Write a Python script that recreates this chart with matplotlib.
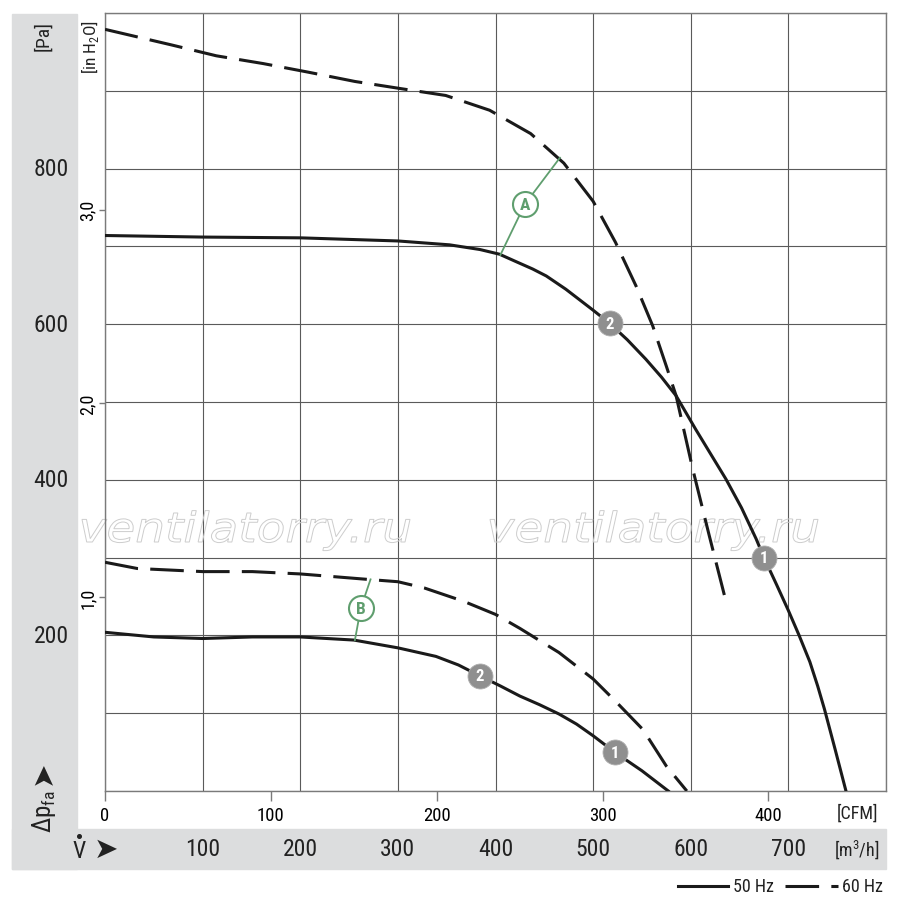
import matplotlib
matplotlib.use("Agg")
import matplotlib.pyplot as plt
from matplotlib.patches import Rectangle, PathPatch
from matplotlib.textpath import TextPath
from matplotlib.font_manager import FontProperties
from matplotlib.transforms import Affine2D, blended_transform_factory
from matplotlib.lines import Line2D

plt.rcParams['font.family'] = ['Roboto Condensed', 'Liberation Sans Narrow', 'DejaVu Sans']

# ---- data (x in m3/h, y in Pa) ----
upper_60_v = [0, 68, 114, 162, 208, 256, 302, 349, 394, 436, 470, 500, 523, 544, 561, 575, 585, 602, 619, 635]
upper_60_p = [979, 959, 945, 935, 924, 912, 903, 894, 875, 845, 807, 758, 705, 649, 598, 546, 508, 414, 328, 249]

upper_50_v = [0, 100, 200, 300, 353, 384, 404, 420, 438, 452, 472, 500, 517, 535, 554, 570, 585, 605, 620, 636,
              652, 667, 675, 688, 700, 711, 722, 730, 737, 748, 759]
upper_50_p = [714, 712, 711, 707, 702, 696, 690, 681, 671, 662, 645, 618, 601, 580, 555, 532, 508, 465, 434, 401,
              364, 324, 300, 265, 232, 200, 166, 135, 105, 53, 0]

lower_60_v = [0, 33, 100, 151, 200, 269, 300, 327, 367, 400, 425, 465, 500, 524, 551, 575, 596]
lower_60_p = [294, 286, 282, 282, 279, 272, 269, 261, 244, 227, 209, 178, 144, 114, 79, 32, 0]

lower_50_v = [0, 50, 100, 151, 200, 255, 300, 339, 362, 384, 405, 425, 445, 465, 483, 500, 522, 550, 577]
lower_50_p = [204, 198, 196, 198, 198, 194, 184, 173, 162, 148, 135, 122, 111, 99, 86, 71, 50, 26, 0]

# numbered markers on curves: (v, p, label)
num_badges = [(517, 601, '2'), (675, 300, '1'), (384, 148, '2'), (522, 50, '1')]
# letter markers: (v, p, label, (v_dash, p_dash), (v_solid, p_solid))
letter_badges = [(430, 754, 'A', (466, 814), (405, 689)),
                 (262, 235, 'B', (272, 272), (256, 194))]

pa_ticks = [200, 400, 600, 800]
m3h_ticks = [100, 200, 300, 400, 500, 600, 700]
cfm_ticks = [0, 100, 200, 300, 400]
inh2o_ticks = [1, 2, 3]
inh2o_labels = ['1,0', '2,0', '3,0']

PA_PER_INH2O = 249.089
M3H_PER_CFM = 1.699

W, H = 900, 903


def fx(px):
    return px / W


def fy(py):
    return 1 - py / H


fig = plt.figure(figsize=(9, 9.03), dpi=100)
fig.patch.set_facecolor('white')

# grey bands
band = '#dcddde'
fig.add_artist(Rectangle((fx(12), fy(870)), fx(77) - fx(12), fy(15) - fy(870),
                         transform=fig.transFigure, color=band, zorder=-5))
fig.add_artist(Rectangle((fx(12), fy(870)), fx(886) - fx(12), fy(830) - fy(870),
                         transform=fig.transFigure, color=band, zorder=-5))

ax = fig.add_axes([fx(105), fy(792), (886 - 105) / W, (792 - 14) / H])
ax.set_xlim(0, 800)
ax.set_ylim(0, 1000)
ax.set_xticks(range(0, 801, 100))
ax.set_yticks(range(0, 1001, 100))
ax.tick_params(length=0, labelbottom=False, labelleft=False)
ax.set_axisbelow(True)
ax.grid(True, color='#5a5a5a', lw=0.8)
for s in ax.spines.values():
    s.set_color('#7a7a7a')
    s.set_linewidth(1.0)

lc = '#1a1a1a'
dash = (11, 4)
ax.plot(upper_60_v, upper_60_p, color=lc, lw=2.2, dashes=dash, zorder=3)
ax.plot(lower_60_v, lower_60_p, color=lc, lw=2.2, dashes=dash, zorder=3)
ax.plot(upper_50_v, upper_50_p, color=lc, lw=2.2, zorder=3)
ax.plot(lower_50_v, lower_50_p, color=lc, lw=2.2, zorder=3)

for v, p, t in num_badges:
    ax.plot(v, p, 'o', ms=18, mfc='#8f8f8f', mec='#b0b0b0', mew=0.6, zorder=5)
    ax.text(v, p, t, color='white', fontsize=12, fontweight='bold',
            ha='center', va='center', zorder=6)

green = '#5f9e6e'
for v, p, t, d, s in letter_badges:
    ax.plot([d[0], v, s[0]], [d[1], p, s[1]], color=green, lw=1.3, zorder=4)
    ax.plot(v, p, 'o', ms=18, mfc='white', mec=green, mew=1.5, zorder=5)
    ax.text(v, p, t, color=green, fontsize=12.5, fontweight='bold',
            ha='center', va='center', zorder=6)

# watermark
wm_font = FontProperties(family='DejaVu Sans', style='oblique')
tp = TextPath((0, 0), 'ventilatorry.ru', size=1, prop=wm_font)
bb = tp.get_extents()
sx = 328 / bb.width
sy = 40 / bb.height
for x0 in [82, 490]:
    tr = (Affine2D().translate(-bb.x0, 0).scale(sx / W, sy / H)
          .translate(fx(x0), fy(543)) + fig.transFigure)
    ax.add_patch(PathPatch(tp, transform=tr, facecolor='none',
                           edgecolor='#cdcdcd', lw=0.7, zorder=2.5, clip_on=False))

# CFM axis
cfm_ax = ax.secondary_xaxis('bottom', functions=(lambda v: v / M3H_PER_CFM,
                                                 lambda c: c * M3H_PER_CFM))
cfm_ax.set_xticks(cfm_ticks)
cfm_ax.tick_params(length=7, width=1, color='#7a7a7a', labelsize=13.5, pad=3.5)
cfm_ax.spines['bottom'].set_visible(False)

# in H2O axis
in_ax = ax.secondary_yaxis('left', functions=(lambda p: p / PA_PER_INH2O,
                                              lambda i: i * PA_PER_INH2O))
in_ax.set_yticks(inh2o_ticks)
in_ax.set_yticklabels(inh2o_labels, rotation=90, va='center')
in_ax.tick_params(length=4, width=1, color='#7a7a7a', labelsize=13, pad=2)
in_ax.spines['left'].set_visible(False)

tc = '#222222'

# Pa labels in grey band
ty = blended_transform_factory(fig.transFigure, ax.transData)
for p in pa_ticks:
    ax.text(fx(51), p, str(p), transform=ty, ha='center', va='center',
            fontsize=17, color=tc, clip_on=False)

# m3/h labels in grey band
tx = blended_transform_factory(ax.transData, fig.transFigure)
for v in m3h_ticks:
    ax.text(v, fy(849), str(v), transform=tx, ha='center', va='center',
            fontsize=17, color=tc, clip_on=False)

fig.text(fx(857), fy(814), '[CFM]', ha='center', va='center', fontsize=13, color=tc)
fig.text(fx(857), fy(850), r'[m$^{\mathregular{3}}$/h]', ha='center', va='center',
         fontsize=13, color=tc)
fig.text(fx(43), fy(36), '[Pa]', rotation=90, ha='center', va='center', fontsize=14, color=tc)
fig.text(fx(90), fy(47), r'[in H$_{\mathregular{2}}$O]', rotation=90, ha='center',
         va='center', fontsize=12.5, color=tc)
fig.text(fx(44), fy(811), r'Δp$_{\mathregular{fa}}$', rotation=90, ha='center',
         va='center', fontsize=18, color=tc)
fig.text(fx(43), fy(773), '➤', rotation=90, ha='center', va='center',
         fontsize=21, color=tc, family='DejaVu Sans')
# V with a dot above
fig.text(fx(79), fy(852), 'V', ha='center', va='center', fontsize=17, color=tc)
fig.add_artist(Line2D([fx(79)], [fy(837)], marker='o', ms=2.6, color=tc, lw=0,
                      transform=fig.transFigure))
fig.text(fx(106), fy(850), '➤', ha='center', va='center',
         fontsize=21, color=tc, family='DejaVu Sans')

# legend
fig.add_artist(Line2D([fx(678), fx(728)], [fy(887), fy(887)], color=lc, lw=2.2,
                      transform=fig.transFigure))
fig.text(fx(733), fy(887), '50 Hz', ha='left', va='center', fontsize=13, color=tc)
fig.add_artist(Line2D([fx(785), fx(838)], [fy(887), fy(887)], color=lc, lw=2.2,
                      dashes=dash, transform=fig.transFigure))
fig.text(fx(842), fy(887), '60 Hz', ha='left', va='center', fontsize=13, color=tc)

fig.savefig('out.png', dpi=100)
